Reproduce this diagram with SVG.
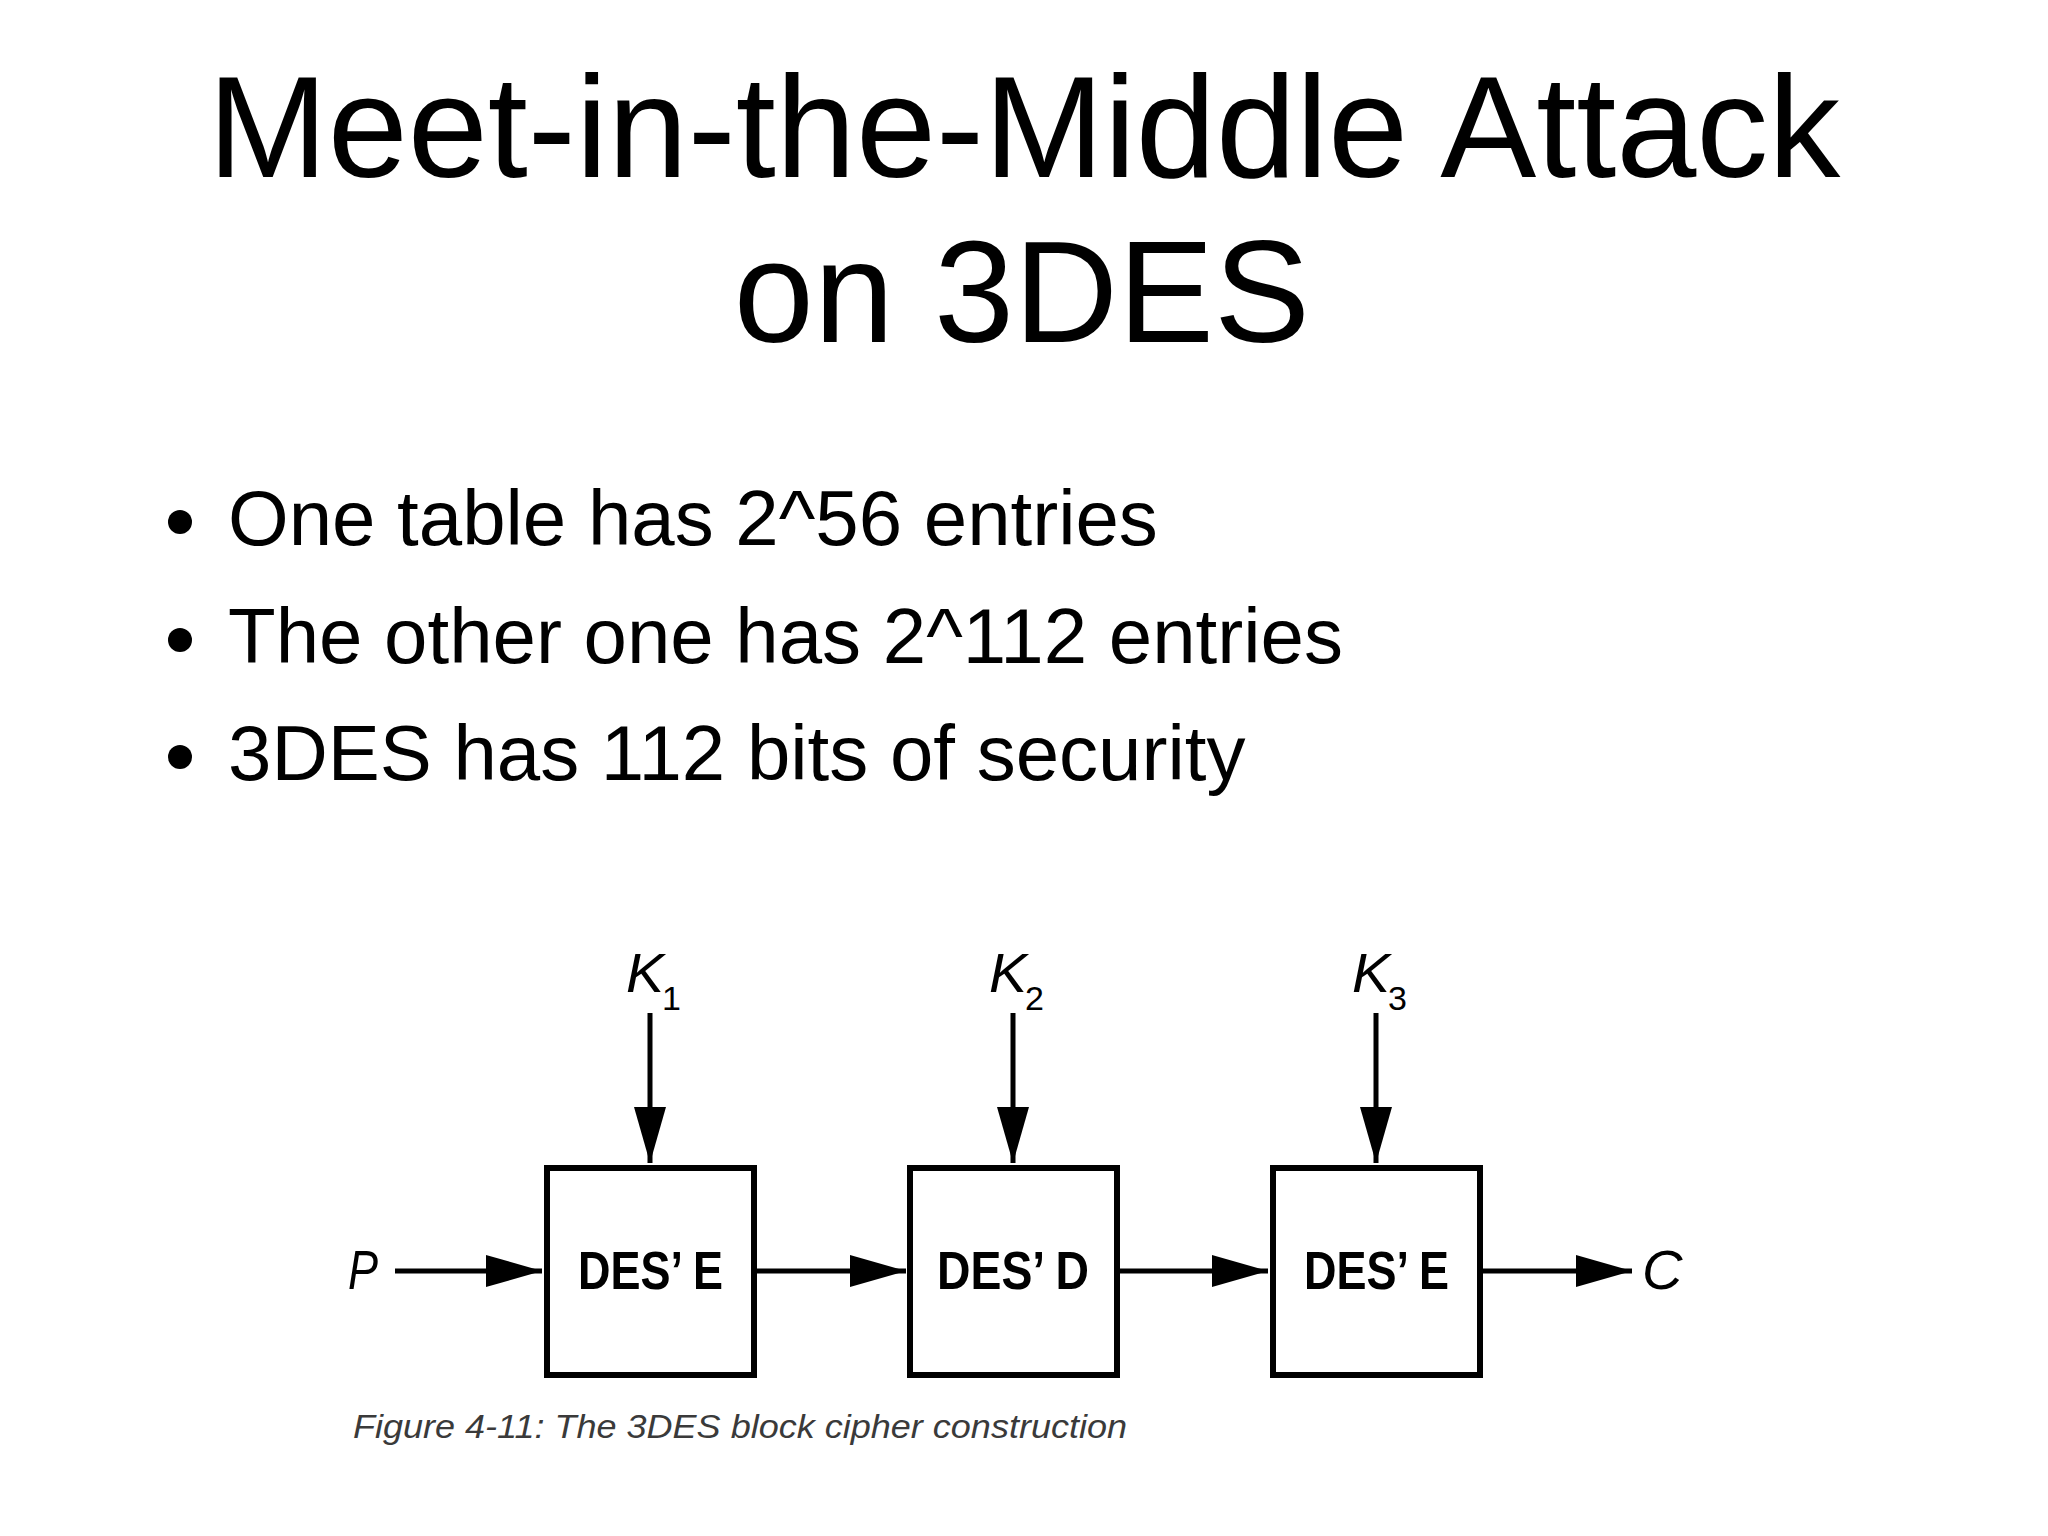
<svg xmlns="http://www.w3.org/2000/svg" width="2048" height="1536" viewBox="0 0 2048 1536">
<style>
.title{font-family:"Liberation Sans",Arial,sans-serif;font-size:144px;fill:#000;text-anchor:middle}
.bul{font-family:"Liberation Sans",Arial,sans-serif;font-size:78px;fill:#000}
.box{fill:#fff;stroke:#000;stroke-width:6}
.lbl{font-family:"Liberation Sans",Arial,sans-serif;font-weight:bold;font-size:54px;fill:#000}
.var{font-family:"Liberation Sans",Arial,sans-serif;font-style:italic;font-size:56px;fill:#000}
.sub{font-family:"Liberation Sans",Arial,sans-serif;font-size:34px;fill:#000}
.edge{stroke:#000;stroke-width:5;fill:none}
.cap{font-family:"Liberation Sans",Arial,sans-serif;font-style:italic;font-size:33px;fill:#3a3a3a}
</style>
<defs>
<marker id="ah" markerUnits="userSpaceOnUse" markerWidth="56" markerHeight="32" refX="56" refY="16" orient="auto">
<path d="M0,0 L56,16 L0,32 Z" fill="#000"/>
</marker>
</defs>
<rect width="2048" height="1536" fill="#fff"/>
<g id="title">
<text class="title" x="1024" y="177">Meet-in-the-Middle Attack</text>
<text class="title" x="1022" y="342">on 3DES</text>
</g>
<g id="bullets">
<circle cx="180" cy="522" r="12"/>
<text class="bul" x="228" y="545">One table has 2^56 entries</text>
<circle cx="180" cy="640" r="12"/>
<text class="bul" x="228" y="663">The other one has 2^112 entries</text>
<circle cx="180" cy="757" r="12"/>
<text class="bul" x="228" y="780">3DES has 112 bits of security</text>
</g>
<g id="connectors">
<line class="edge" x1="395" y1="1271" x2="542" y2="1271" marker-end="url(#ah)"/>
<line class="edge" x1="756" y1="1271" x2="906" y2="1271" marker-end="url(#ah)"/>
<line class="edge" x1="1118" y1="1271" x2="1268" y2="1271" marker-end="url(#ah)"/>
<line class="edge" x1="1482" y1="1271" x2="1632" y2="1271" marker-end="url(#ah)"/>
<line class="edge" x1="650" y1="1013" x2="650" y2="1163" marker-end="url(#ah)"/>
<line class="edge" x1="1013" y1="1013" x2="1013" y2="1163" marker-end="url(#ah)"/>
<line class="edge" x1="1376" y1="1013" x2="1376" y2="1163" marker-end="url(#ah)"/>
</g>
<g id="P"><text class="var" x="348" y="1289" textLength="30" lengthAdjust="spacingAndGlyphs">P</text></g>
<g id="C"><text class="var" x="1642" y="1289">C</text></g>
<g id="K1"><text class="var" x="626" y="992" textLength="38" lengthAdjust="spacingAndGlyphs">K</text><text class="sub" x="662" y="1010">1</text></g>
<g id="K2"><text class="var" x="989" y="992" textLength="38" lengthAdjust="spacingAndGlyphs">K</text><text class="sub" x="1025" y="1010">2</text></g>
<g id="K3"><text class="var" x="1352" y="992" textLength="38" lengthAdjust="spacingAndGlyphs">K</text><text class="sub" x="1388" y="1010">3</text></g>
<g id="box1">
<rect class="box" x="547" y="1168" width="207" height="207"/>
<text class="lbl" x="578" y="1289" textLength="145" lengthAdjust="spacingAndGlyphs">DES’ E</text>
</g>
<g id="box2">
<rect class="box" x="910" y="1168" width="207" height="207"/>
<text class="lbl" x="937" y="1289" textLength="152" lengthAdjust="spacingAndGlyphs">DES’ D</text>
</g>
<g id="box3">
<rect class="box" x="1273" y="1168" width="207" height="207"/>
<text class="lbl" x="1304" y="1289" textLength="145" lengthAdjust="spacingAndGlyphs">DES’ E</text>
</g>
<g id="caption">
<text class="cap" x="353" y="1438" textLength="774" lengthAdjust="spacingAndGlyphs">Figure 4-11: The 3DES block cipher construction</text>
</g>
</svg>
